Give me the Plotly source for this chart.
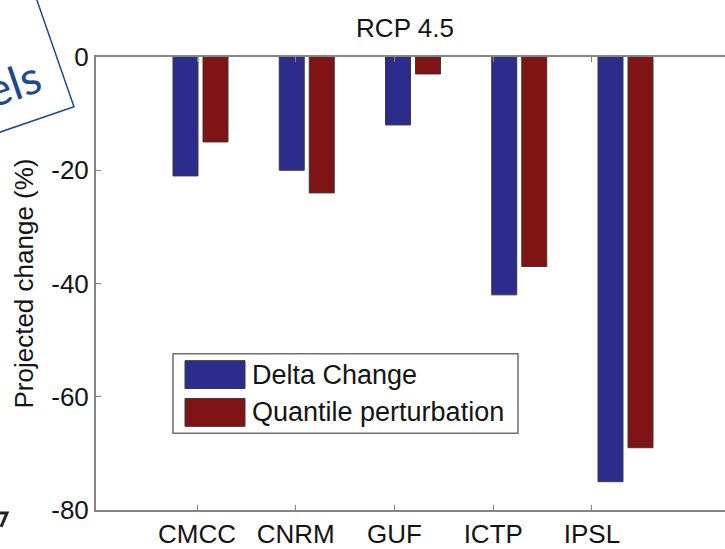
import plotly.graph_objects as go

# Projected change per regional model, two bias-correction methods
models = ["CMCC", "CNRM", "GUF", "ICTP", "IPSL"]
delta_change = [-21, -20, -12, -42, -75]
quantile_perturbation = [-15, -24, -3, -37, -69]
series_names = ["Delta Change", "Quantile perturbation"]
series_colors = ["#2c2c8c", "#801414"]
y_tick_values = [0, -20, -40, -60, -80]

W, H = 725, 549
ML, MR, MT, MB = 96, 0, 57, 37
PW, PH = W - ML - MR, H - MT - MB


def px(x):
    """pixel column -> paper x"""
    return (x - ML) / PW


def py(y):
    """pixel row -> paper y"""
    return (H - MB - y) / PH


FONT = "Liberation Sans, Arial, Helvetica, sans-serif"
AXIS_GRAY = "#858585"
TEXT = "#141414"

fig = go.Figure()
# bars live on their own category axis (x), the labelled axis (x2) sits on top of it
for name, vals, col in zip(series_names, [delta_change, quantile_perturbation], series_colors):
    fig.add_trace(go.Bar(
        x=models, y=vals, name=name, xaxis="x", yaxis="y",
        marker=dict(color=col, line=dict(color="#3a3a3a", width=1)),
        showlegend=False,
    ))
fig.add_trace(go.Scatter(x=models, y=[None] * len(models), xaxis="x2", yaxis="y",
                         mode="markers", showlegend=False, hoverinfo="skip"))

fig.update_layout(
    width=W, height=H,
    margin=dict(l=ML, r=MR, t=MT, b=MB),
    paper_bgcolor="white", plot_bgcolor="white",
    barmode="group", bargap=0.435, bargroupgap=0.167,
    font=dict(family=FONT, color=TEXT, size=26),
    title=dict(text="RCP 4.5", x=px(405), xref="paper", xanchor="center",
               y=1 - 28 / H, yref="container", yanchor="middle",
               font=dict(size=26, color=TEXT, family=FONT)),
    xaxis=dict(
        type="category", categoryorder="array", categoryarray=models,
        range=[-0.9835, 4.9365],
        showline=False, ticks="", showticklabels=False,
        showgrid=False, zeroline=False,
    ),
    xaxis2=dict(
        type="category", categoryorder="array", categoryarray=models,
        overlaying="x", side="bottom", anchor="y",
        range=[-1.0228, 5.347],
        showline=True, linecolor=AXIS_GRAY, linewidth=2, mirror="ticks",
        ticks="inside", ticklen=5, tickcolor=AXIS_GRAY, tickwidth=1,
        showgrid=False, zeroline=False,
        tickfont=dict(size=26, family=FONT, color=TEXT),
    ),
    yaxis=dict(
        range=[-80, 0], tickvals=y_tick_values, ticktext=[str(v) for v in y_tick_values],
        showline=True, linecolor=AXIS_GRAY, linewidth=2,
        ticks="inside", ticklen=5, tickcolor=AXIS_GRAY, tickwidth=1,
        showgrid=False, zeroline=False,
        tickfont=dict(size=26, family=FONT, color=TEXT),
        title=dict(text="Projected change (%)", standoff=10,
                   font=dict(size=26, family=FONT, color=TEXT)),
    ),
)

# Legend drawn as a framed box with large swatches
shapes = [dict(type="rect", xref="paper", yref="paper",
               x0=px(173), x1=px(518), y0=py(435), y1=py(355),
               line=dict(color="#6e6e6e", width=1.5), fillcolor="white", layer="above")]
annotations = []
swatch_rows = [(362, 390), (400, 428)]
for (top, bot), name, col in zip(swatch_rows, series_names, series_colors):
    shapes.append(dict(type="rect", xref="paper", yref="paper",
                       x0=px(185), x1=px(245), y0=py(bot), y1=py(top),
                       line=dict(color="#3a3a3a", width=1), fillcolor=col, layer="above"))
    annotations.append(dict(text=name, xref="paper", yref="paper",
                            x=px(250), y=py((top + bot) / 2), xanchor="left", yanchor="middle",
                            showarrow=False, font=dict(size=27, family=FONT, color=TEXT)))

# Tilted callout box in the upper-left corner
BLUE = "#1f4b88"
corner = (74, 107)
left_end = (74 - 0.946 * 170, 107 + 0.326 * 170)
top_end = (74 - 0.327 * 170, 107 - 0.945 * 170)
shapes.append(dict(type="path", xref="paper", yref="paper",
                   path="M {:.4f},{:.4f} L {:.4f},{:.4f} L {:.4f},{:.4f}".format(
                       px(left_end[0]), py(left_end[1]), px(corner[0]), py(corner[1]),
                       px(top_end[0]), py(top_end[1])),
                   line=dict(color=BLUE, width=1.5)))
annotations.append(dict(text="models", xref="paper", yref="paper",
                        x=px(-30), y=py(98), xanchor="center", yanchor="middle",
                        textangle=-19, showarrow=False,
                        font=dict(size=46, family="Lato, Open Sans, sans-serif", color=BLUE)))

# Small stroke at the lower-left edge
shapes.append(dict(type="path", xref="paper", yref="paper",
                   path="M {:.4f},{:.4f} L {:.4f},{:.4f} L {:.4f},{:.4f}".format(
                       px(-2), py(515), px(7), py(515), px(1), py(529)),
                   line=dict(color="#222222", width=3)))

fig.update_layout(shapes=shapes, annotations=annotations)
fig.write_html("out.html")
